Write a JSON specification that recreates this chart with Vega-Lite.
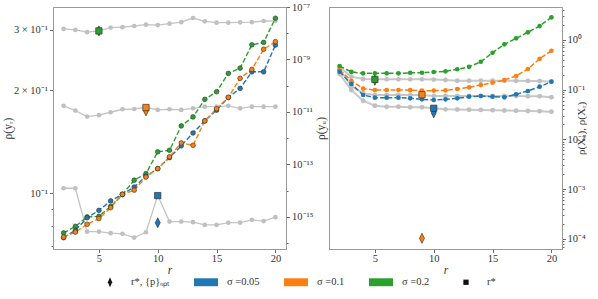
{
"$schema": "https://vega.github.io/schema/vega-lite/v6.json",
"padding": {"left": 1, "top": 1, "right": 0, "bottom": 0},
"spacing": 0,
"config": {
 "font": "Liberation Serif",
 "view": {"stroke": "#999999", "strokeWidth": 1},
 "axis": {"labelFont": "Liberation Serif", "labelFontSize": 10.5, "labelColor": "#333333", "titleFont": "Liberation Serif", "titleFontSize": 11.5, "titleFontWeight": "normal", "titleColor": "#333333", "domainColor": "#999999", "tickColor": "#666666", "grid": false, "tickSize": 3.5, "labelPadding": 2},
 "legend": {"labelFont": "Liberation Serif", "labelFontSize": 10.5, "labelColor": "#333333"}
},
"datasets": {
 "lg": [
  {"r":2,"v":0.302,"g":"a"},{"r":3,"v":0.300,"g":"a"},{"r":4,"v":0.2955,"g":"a"},{"r":5,"v":0.298,"g":"a"},{"r":6,"v":0.3047,"g":"a"},{"r":7,"v":0.3055,"g":"a"},{"r":8,"v":0.308,"g":"a"},{"r":9,"v":0.3108,"g":"a"},{"r":10,"v":0.310,"g":"a"},{"r":11,"v":0.3128,"g":"a"},{"r":12,"v":0.316,"g":"a"},{"r":13,"v":0.325,"g":"a"},{"r":14,"v":0.3178,"g":"a"},{"r":15,"v":0.315,"g":"a"},{"r":16,"v":0.315,"g":"a"},{"r":17,"v":0.3157,"g":"a"},{"r":18,"v":0.316,"g":"a"},{"r":19,"v":0.3185,"g":"a"},{"r":20,"v":0.319,"g":"a"},
  {"r":2,"v":0.180,"g":"b"},{"r":3,"v":0.1743,"g":"b"},{"r":4,"v":0.1674,"g":"b"},{"r":5,"v":0.169,"g":"b"},{"r":6,"v":0.1724,"g":"b"},{"r":7,"v":0.1759,"g":"b"},{"r":8,"v":0.1762,"g":"b"},{"r":9,"v":0.1783,"g":"b"},{"r":10,"v":0.1751,"g":"b"},{"r":11,"v":0.1759,"g":"b"},{"r":12,"v":0.1751,"g":"b"},{"r":13,"v":0.1770,"g":"b"},{"r":14,"v":0.179,"g":"b"},{"r":15,"v":0.179,"g":"b"},{"r":16,"v":0.180,"g":"b"},{"r":17,"v":0.1770,"g":"b"},{"r":18,"v":0.179,"g":"b"},{"r":19,"v":0.179,"g":"b"},{"r":20,"v":0.179,"g":"b"},
  {"r":2,"v":0.1034,"g":"c"},{"r":3,"v":0.1034,"g":"c"},{"r":4,"v":0.0772,"g":"c"},{"r":5,"v":0.0772,"g":"c"},{"r":6,"v":0.0764,"g":"c"},{"r":7,"v":0.0761,"g":"c"},{"r":8,"v":0.0742,"g":"c"},{"r":9,"v":0.0769,"g":"c"},{"r":10,"v":0.0984,"g":"c"},{"r":11,"v":0.0826,"g":"c"},{"r":12,"v":0.0826,"g":"c"},{"r":13,"v":0.0823,"g":"c"},{"r":14,"v":0.0808,"g":"c"},{"r":15,"v":0.0808,"g":"c"},{"r":16,"v":0.082,"g":"c"},{"r":17,"v":0.082,"g":"c"},{"r":18,"v":0.0836,"g":"c"},{"r":19,"v":0.0829,"g":"c"},{"r":20,"v":0.0851,"g":"c"}
 ],
 "lc": [
  {"r":2,"v":2.45e-16,"s":"0.2"},{"r":3,"v":4.37e-16,"s":"0.2"},{"r":4,"v":1.0e-15,"s":"0.2"},{"r":5,"v":1.05e-15,"s":"0.2"},{"r":6,"v":2.51e-15,"s":"0.2"},{"r":7,"v":7.24e-15,"s":"0.2"},{"r":8,"v":2.51e-14,"s":"0.2"},{"r":9,"v":4.47e-14,"s":"0.2"},{"r":10,"v":3.02e-13,"s":"0.2"},{"r":11,"v":3.47e-13,"s":"0.2"},{"r":12,"v":2.95e-12,"s":"0.2"},{"r":13,"v":6.46e-12,"s":"0.2"},{"r":14,"v":3.02e-11,"s":"0.2"},{"r":15,"v":5.89e-11,"s":"0.2"},{"r":16,"v":2.95e-10,"s":"0.2"},{"r":17,"v":4.68e-10,"s":"0.2"},{"r":18,"v":3.63e-9,"s":"0.2"},{"r":19,"v":4.47e-9,"s":"0.2"},{"r":20,"v":3.72e-8,"s":"0.2"},
  {"r":2,"v":1.62e-16,"s":"0.05"},{"r":3,"v":3.09e-16,"s":"0.05"},{"r":4,"v":9.33e-16,"s":"0.05"},{"r":5,"v":1.78e-15,"s":"0.05"},{"r":6,"v":4.07e-15,"s":"0.05"},{"r":7,"v":7.24e-15,"s":"0.05"},{"r":8,"v":1.38e-14,"s":"0.05"},{"r":9,"v":3.55e-14,"s":"0.05"},{"r":10,"v":6.92e-14,"s":"0.05"},{"r":11,"v":1.82e-13,"s":"0.05"},{"r":12,"v":5.13e-13,"s":"0.05"},{"r":13,"v":1.58e-12,"s":"0.05"},{"r":14,"v":4.57e-12,"s":"0.05"},{"r":15,"v":1.17e-11,"s":"0.05"},{"r":16,"v":3.55e-11,"s":"0.05"},{"r":17,"v":7.94e-11,"s":"0.05"},{"r":18,"v":3.39e-10,"s":"0.05"},{"r":19,"v":3.39e-10,"s":"0.05"},{"r":20,"v":3.55e-9,"s":"0.05"},
  {"r":2,"v":1.70e-16,"s":"0.1"},{"r":3,"v":2.63e-16,"s":"0.1"},{"r":4,"v":5.25e-16,"s":"0.1"},{"r":5,"v":8.71e-16,"s":"0.1"},{"r":6,"v":2.24e-15,"s":"0.1"},{"r":7,"v":7.24e-15,"s":"0.1"},{"r":8,"v":1.05e-14,"s":"0.1"},{"r":9,"v":3.31e-14,"s":"0.1"},{"r":10,"v":6.92e-14,"s":"0.1"},{"r":11,"v":1.95e-13,"s":"0.1"},{"r":12,"v":6.61e-13,"s":"0.1"},{"r":13,"v":5.37e-13,"s":"0.1"},{"r":14,"v":4.57e-12,"s":"0.1"},{"r":15,"v":1.32e-11,"s":"0.1"},{"r":16,"v":3.63e-11,"s":"0.1"},{"r":17,"v":1.91e-10,"s":"0.1"},{"r":18,"v":4.17e-10,"s":"0.1"},{"r":19,"v":2.45e-9,"s":"0.1"},{"r":20,"v":4.79e-9,"s":"0.1"}
 ],
 "lm": [
  {"r":5,"v":0.298,"s":"0.2","m":"d"},{"r":9,"v":0.174,"s":"0.1","m":"d"},{"r":10,"v":0.082,"s":"0.05","m":"d"},
  {"r":5,"v":0.298,"s":"0.2","m":"s"},{"r":9,"v":0.178,"s":"0.1","m":"s"},{"r":10,"v":0.0984,"s":"0.05","m":"s"}
 ],
 "rg": [
  {"r":2,"v":0.279,"g":"a"},{"r":3,"v":0.181,"g":"a"},{"r":4,"v":0.1625,"g":"a"},{"r":5,"v":0.160,"g":"a"},{"r":6,"v":0.160,"g":"a"},{"r":7,"v":0.160,"g":"a"},{"r":8,"v":0.160,"g":"a"},{"r":9,"v":0.160,"g":"a"},{"r":10,"v":0.158,"g":"a"},{"r":11,"v":0.155,"g":"a"},{"r":12,"v":0.150,"g":"a"},{"r":13,"v":0.150,"g":"a"},{"r":14,"v":0.150,"g":"a"},{"r":15,"v":0.150,"g":"a"},{"r":16,"v":0.150,"g":"a"},{"r":17,"v":0.150,"g":"a"},{"r":18,"v":0.149,"g":"a"},{"r":19,"v":0.148,"g":"a"},{"r":20,"v":0.1435,"g":"a"},
  {"r":2,"v":0.255,"g":"b"},{"r":3,"v":0.1175,"g":"b"},{"r":4,"v":0.0839,"g":"b"},{"r":5,"v":0.0776,"g":"b"},{"r":6,"v":0.0776,"g":"b"},{"r":7,"v":0.0776,"g":"b"},{"r":8,"v":0.0776,"g":"b"},{"r":9,"v":0.0776,"g":"b"},{"r":10,"v":0.074,"g":"b"},{"r":11,"v":0.074,"g":"b"},{"r":12,"v":0.074,"g":"b"},{"r":13,"v":0.074,"g":"b"},{"r":14,"v":0.074,"g":"b"},{"r":15,"v":0.074,"g":"b"},{"r":16,"v":0.074,"g":"b"},{"r":17,"v":0.074,"g":"b"},{"r":18,"v":0.073,"g":"b"},{"r":19,"v":0.073,"g":"b"},{"r":20,"v":0.0697,"g":"b"},
  {"r":2,"v":0.205,"g":"c"},{"r":3,"v":0.0977,"g":"c"},{"r":4,"v":0.0596,"g":"c"},{"r":5,"v":0.0473,"g":"c"},{"r":6,"v":0.0451,"g":"c"},{"r":7,"v":0.0451,"g":"c"},{"r":8,"v":0.0439,"g":"c"},{"r":9,"v":0.0439,"g":"c"},{"r":10,"v":0.0419,"g":"c"},{"r":11,"v":0.040,"g":"c"},{"r":12,"v":0.0398,"g":"c"},{"r":13,"v":0.0392,"g":"c"},{"r":14,"v":0.039,"g":"c"},{"r":15,"v":0.0385,"g":"c"},{"r":16,"v":0.038,"g":"c"},{"r":17,"v":0.0375,"g":"c"},{"r":18,"v":0.037,"g":"c"},{"r":19,"v":0.0365,"g":"c"},{"r":20,"v":0.0358,"g":"c"}
 ],
 "rc": [
  {"r":2,"v":0.296,"s":"0.2"},{"r":3,"v":0.226,"s":"0.2"},{"r":4,"v":0.211,"s":"0.2"},{"r":5,"v":0.211,"s":"0.2"},{"r":6,"v":0.211,"s":"0.2"},{"r":7,"v":0.211,"s":"0.2"},{"r":8,"v":0.217,"s":"0.2"},{"r":9,"v":0.217,"s":"0.2"},{"r":10,"v":0.225,"s":"0.2"},{"r":11,"v":0.232,"s":"0.2"},{"r":12,"v":0.255,"s":"0.2"},{"r":13,"v":0.285,"s":"0.2"},{"r":14,"v":0.361,"s":"0.2"},{"r":15,"v":0.548,"s":"0.2"},{"r":16,"v":0.809,"s":"0.2"},{"r":17,"v":1.067,"s":"0.2"},{"r":18,"v":1.41,"s":"0.2"},{"r":19,"v":1.88,"s":"0.2"},{"r":20,"v":2.82,"s":"0.2"},
  {"r":2,"v":0.246,"s":"0.1"},{"r":3,"v":0.150,"s":"0.1"},{"r":4,"v":0.1038,"s":"0.1"},{"r":5,"v":0.0977,"s":"0.1"},{"r":6,"v":0.0977,"s":"0.1"},{"r":7,"v":0.0977,"s":"0.1"},{"r":8,"v":0.097,"s":"0.1"},{"r":9,"v":0.095,"s":"0.1"},{"r":10,"v":0.095,"s":"0.1"},{"r":11,"v":0.0965,"s":"0.1"},{"r":12,"v":0.1023,"s":"0.1"},{"r":13,"v":0.1107,"s":"0.1"},{"r":14,"v":0.123,"s":"0.1"},{"r":15,"v":0.137,"s":"0.1"},{"r":16,"v":0.155,"s":"0.1"},{"r":17,"v":0.187,"s":"0.1"},{"r":18,"v":0.258,"s":"0.1"},{"r":19,"v":0.415,"s":"0.1"},{"r":20,"v":0.601,"s":"0.1"},
  {"r":2,"v":0.228,"s":"0.05"},{"r":3,"v":0.129,"s":"0.05"},{"r":4,"v":0.0776,"s":"0.05"},{"r":5,"v":0.0685,"s":"0.05"},{"r":6,"v":0.0685,"s":"0.05"},{"r":7,"v":0.0685,"s":"0.05"},{"r":8,"v":0.0666,"s":"0.05"},{"r":9,"v":0.0636,"s":"0.05"},{"r":10,"v":0.0615,"s":"0.05"},{"r":11,"v":0.0636,"s":"0.05"},{"r":12,"v":0.0666,"s":"0.05"},{"r":13,"v":0.0717,"s":"0.05"},{"r":14,"v":0.074,"s":"0.05"},{"r":15,"v":0.0717,"s":"0.05"},{"r":16,"v":0.0697,"s":"0.05"},{"r":17,"v":0.0801,"s":"0.05"},{"r":18,"v":0.0933,"s":"0.05"},{"r":19,"v":0.1138,"s":"0.05"},{"r":20,"v":0.1435,"s":"0.05"}
 ],
 "rm": [
  {"r":5,"v":0.153,"s":"0.2","m":"d"},{"r":9,"v":0.000103,"s":"0.1","m":"d"},{"r":10,"v":0.034,"s":"0.05","m":"d"},
  {"r":5,"v":0.160,"s":"0.2","m":"s"},{"r":9,"v":0.0787,"s":"0.1","m":"s"},{"r":10,"v":0.042,"s":"0.05","m":"s"}
 ],
 "leg": [
  {"leg":"r*, {p}ₒₚₜ"},{"leg":"σ =0.05"},{"leg":"σ =0.1"},{"leg":"σ =0.2"},{"leg":"r*"}
 ]
},
"hconcat": [
 {
  "width": 233, "height": 242,
  "resolve": {"scale": {"y": "independent"}},
  "layer": [
   {
    "data": {"name": "lg"},
    "encoding": {
     "x": {"field": "r", "type": "quantitative", "scale": {"domain": [1.1, 20.9], "nice": false, "zero": false}, "axis": {"values": [5, 10, 15, 20], "title": "r", "titleFontStyle": "italic", "titlePadding": 0, "tickSize": 3.5, "labelPadding": 1}},
     "y": {"field": "v", "type": "quantitative", "scale": {"type": "log", "domain": [0.0687, 0.35], "nice": false}, "axis": {"title": "ρ(yᵣ)", "titlePadding": 0, "values": [0.07, 0.08, 0.09, 0.1, 0.2, 0.3], "labelExpr": "datum.value==0.3 ? '3 × 10⁻¹' : datum.value==0.2 ? '2 × 10⁻¹' : datum.value==0.1 ? '10⁻¹' : ''", "tickSize": {"condition": {"test": "indexof([0.1,0.2,0.3], datum.value) >= 0", "value": 3.5}, "value": 2}}},
     "detail": {"field": "g"}
    },
    "layer": [
     {"mark": {"type": "line", "color": "#c4c4c4", "strokeWidth": 1.3}},
     {"mark": {"type": "circle", "color": "#c0c0c0", "size": 22, "opacity": 1}}
    ]
   },
   {
    "data": {"name": "lc"},
    "encoding": {
     "x": {"field": "r", "type": "quantitative", "scale": {"domain": [1.1, 20.9], "nice": false, "zero": false}, "axis": {"values": [5, 10, 15, 20], "title": "r", "titleFontStyle": "italic", "titlePadding": 0, "tickSize": 3.5, "labelPadding": 1}},
     "y": {"field": "v", "type": "quantitative", "scale": {"type": "log", "domain": [6.0e-17, 1.0e-7], "nice": false}, "axis": {"orient": "right", "title": null, "values": [1e-7, 1e-8, 1e-9, 1e-10, 1e-11, 1e-12, 1e-13, 1e-14, 1e-15, 1e-16], "labelExpr": "datum.value==1e-7 ? '10⁻⁷' : datum.value==1e-9 ? '10⁻⁹' : datum.value==1e-11 ? '10⁻¹¹' : datum.value==1e-13 ? '10⁻¹³' : datum.value==1e-15 ? '10⁻¹⁵' : ''", "tickSize": {"condition": {"test": "indexof([1e-7,1e-9,1e-11,1e-13,1e-15], datum.value) >= 0", "value": 3.5}, "value": 2}}}
    },
    "layer": [
     {"mark": {"type": "line", "strokeDash": [5, 2.2], "strokeWidth": 1.4}, "encoding": {"stroke": {"field": "s", "type": "nominal", "scale": {"domain": ["0.05", "0.1", "0.2"], "range": ["#1f77b4", "#ff7f0e", "#2ca02c"]}, "legend": null}}},
     {"mark": {"type": "point", "filled": true, "size": 22, "stroke": "#333333", "strokeWidth": 0.6, "opacity": 1}, "encoding": {"fill": {"field": "s", "type": "nominal", "scale": {"domain": ["0.05", "0.1", "0.2"], "range": ["#1f77b4", "#ff7f0e", "#2ca02c"]}, "legend": null}}}
    ]
   },
   {
    "data": {"name": "lm"},
    "encoding": {
     "x": {"field": "r", "type": "quantitative", "scale": {"domain": [1.1, 20.9], "nice": false, "zero": false}, "axis": {"values": [5, 10, 15, 20], "title": "r", "titleFontStyle": "italic", "titlePadding": 0, "tickSize": 3.5, "labelPadding": 1}},
     "y": {"field": "v", "type": "quantitative", "scale": {"type": "log", "domain": [0.0687, 0.35], "nice": false}, "axis": null},
     "fill": {"field": "s", "type": "nominal", "scale": {"domain": ["0.05", "0.1", "0.2"], "range": ["#1f77b4", "#ff7f0e", "#2ca02c"]}, "legend": null}
    },
    "layer": [
     {"transform": [{"filter": "datum.m == 'd'"}], "mark": {"type": "point", "shape": "M0,-1L0.5,0L0,1L-0.5,0Z", "size": 100, "filled": true, "stroke": "#222222", "strokeWidth": 0.6, "opacity": 1}},
     {"transform": [{"filter": "datum.m == 's'"}], "mark": {"type": "point", "shape": "square", "size": 40, "filled": true, "stroke": "#333333", "strokeWidth": 0.7, "opacity": 1}}
    ]
   }
  ]
 },
 {
  "width": 233, "height": 242,
  "resolve": {"scale": {"y": "independent"}},
  "layer": [
   {
    "data": {"name": "rg"},
    "encoding": {
     "x": {"field": "r", "type": "quantitative", "scale": {"domain": [1.1, 20.9], "nice": false, "zero": false}, "axis": {"values": [5, 10, 15, 20], "title": "r", "titleFontStyle": "italic", "titlePadding": 0, "tickSize": 3.5, "labelPadding": 1}},
     "y": {"field": "v", "type": "quantitative", "scale": {"type": "log", "domain": [6.27e-5, 4.54], "nice": false}, "axis": {"title": "ρ(yᵤ)", "labels": false, "ticks": false, "titlePadding": 3}},
     "detail": {"field": "g"}
    },
    "layer": [
     {"mark": {"type": "line", "color": "#c8c8c8", "strokeWidth": 2}},
     {"mark": {"type": "circle", "color": "#c0c0c0", "size": 24, "opacity": 1}}
    ]
   },
   {
    "data": {"name": "rc"},
    "encoding": {
     "x": {"field": "r", "type": "quantitative", "scale": {"domain": [1.1, 20.9], "nice": false, "zero": false}, "axis": {"values": [5, 10, 15, 20], "title": "r", "titleFontStyle": "italic", "titlePadding": 0, "tickSize": 3.5, "labelPadding": 1}},
     "y": {"field": "v", "type": "quantitative", "scale": {"type": "log", "domain": [6.27e-5, 4.54], "nice": false}, "axis": {"orient": "right", "title": "ρ(Xᵤ), ρ(Xᵣ)", "titleAngle": 270, "titlePadding": 1, "titleFontSize": 11, "labelPadding": 1.5, "values": [7e-5, 8e-5, 9e-5, 1e-4, 2e-4, 3e-4, 4e-4, 5e-4, 6e-4, 7e-4, 8e-4, 9e-4, 1e-3, 2e-3, 3e-3, 4e-3, 5e-3, 6e-3, 7e-3, 8e-3, 9e-3, 0.01, 0.02, 0.03, 0.04, 0.05, 0.06, 0.07, 0.08, 0.09, 0.1, 0.2, 0.3, 0.4, 0.5, 0.6, 0.7, 0.8, 0.9, 1, 2, 3, 4], "labelExpr": "datum.value==1 ? '10⁰' : datum.value==0.1 ? '10⁻¹' : datum.value==0.01 ? '10⁻²' : datum.value==0.001 ? '10⁻³' : datum.value==0.0001 ? '10⁻⁴' : ''", "tickSize": {"condition": {"test": "indexof([1,0.1,0.01,0.001,0.0001], datum.value) >= 0", "value": 3.5}, "value": 2}}}
    },
    "layer": [
     {"mark": {"type": "line", "strokeDash": [5, 2.2], "strokeWidth": 1.5}, "encoding": {"stroke": {"field": "s", "type": "nominal", "scale": {"domain": ["0.05", "0.1", "0.2"], "range": ["#1f77b4", "#ff7f0e", "#2ca02c"]}, "legend": null}}},
     {"mark": {"type": "point", "filled": true, "size": 22, "opacity": 1}, "encoding": {"fill": {"field": "s", "type": "nominal", "scale": {"domain": ["0.05", "0.1", "0.2"], "range": ["#1f77b4", "#ff7f0e", "#2ca02c"]}, "legend": null}}}
    ]
   },
   {
    "encoding": {
     "x": {"field": "r", "type": "quantitative", "scale": {"domain": [1.1, 20.9], "nice": false, "zero": false}, "axis": {"values": [5, 10, 15, 20], "title": "r", "titleFontStyle": "italic", "titlePadding": 0, "tickSize": 3.5, "labelPadding": 1}},
     "y": {"field": "v", "type": "quantitative", "scale": {"type": "log", "domain": [6.27e-5, 4.54], "nice": false}, "axis": null}
    },
    "layer": [
     {"data": {"name": "rm"}, "transform": [{"filter": "datum.m == 'd'"}], "mark": {"type": "point", "shape": "M0,-1L0.5,0L0,1L-0.5,0Z", "size": 100, "filled": true, "stroke": "#222222", "strokeWidth": 0.6, "opacity": 1}, "encoding": {"fill": {"field": "s", "type": "nominal", "scale": {"domain": ["0.05", "0.1", "0.2"], "range": ["#1f77b4", "#ff7f0e", "#2ca02c"]}, "legend": null}}},
     {"data": {"name": "rm"}, "transform": [{"filter": "datum.m == 's'"}], "mark": {"type": "point", "shape": "square", "size": 40, "filled": true, "stroke": "#333333", "strokeWidth": 0.7, "opacity": 1}, "encoding": {"fill": {"field": "s", "type": "nominal", "scale": {"domain": ["0.05", "0.1", "0.2"], "range": ["#1f77b4", "#ff7f0e", "#2ca02c"]}, "legend": null}}},
     {"data": {"name": "leg"}, "mark": {"type": "point", "filled": true, "opacity": 1},
      "encoding": {
       "color": {"field": "leg", "type": "nominal", "scale": {"domain": ["r*, {p}ₒₚₜ", "σ =0.05", "σ =0.1", "σ =0.2", "r*"], "range": ["#111111", "#1f77b4", "#ff7f0e", "#2ca02c", "#111111"]}, "legend": {"title": null, "orient": "none", "legendX": 45, "legendY": 263, "direction": "horizontal", "columns": 5, "symbolSize": 576, "labelOffset": 9, "columnPadding": 24, "symbolStrokeWidth": 0}},
       "shape": {"field": "leg", "type": "nominal", "scale": {"domain": ["r*, {p}ₒₚₜ", "σ =0.05", "σ =0.1", "σ =0.2", "r*"], "range": ["M0,-0.42L0.18,0L0,0.42L-0.18,0Z", "M-1,-0.33H1V0.33H-1Z", "M-1,-0.33H1V0.33H-1Z", "M-1,-0.33H1V0.33H-1Z", "M-0.22,-0.22H0.22V0.22H-0.22Z"]}, "legend": {"title": null, "orient": "none", "legendX": 45, "legendY": 263, "direction": "horizontal", "columns": 5, "symbolSize": 576, "labelOffset": 9, "columnPadding": 24, "symbolStrokeWidth": 0}}
      }}
    ]
   }
  ]
 }
]
}
